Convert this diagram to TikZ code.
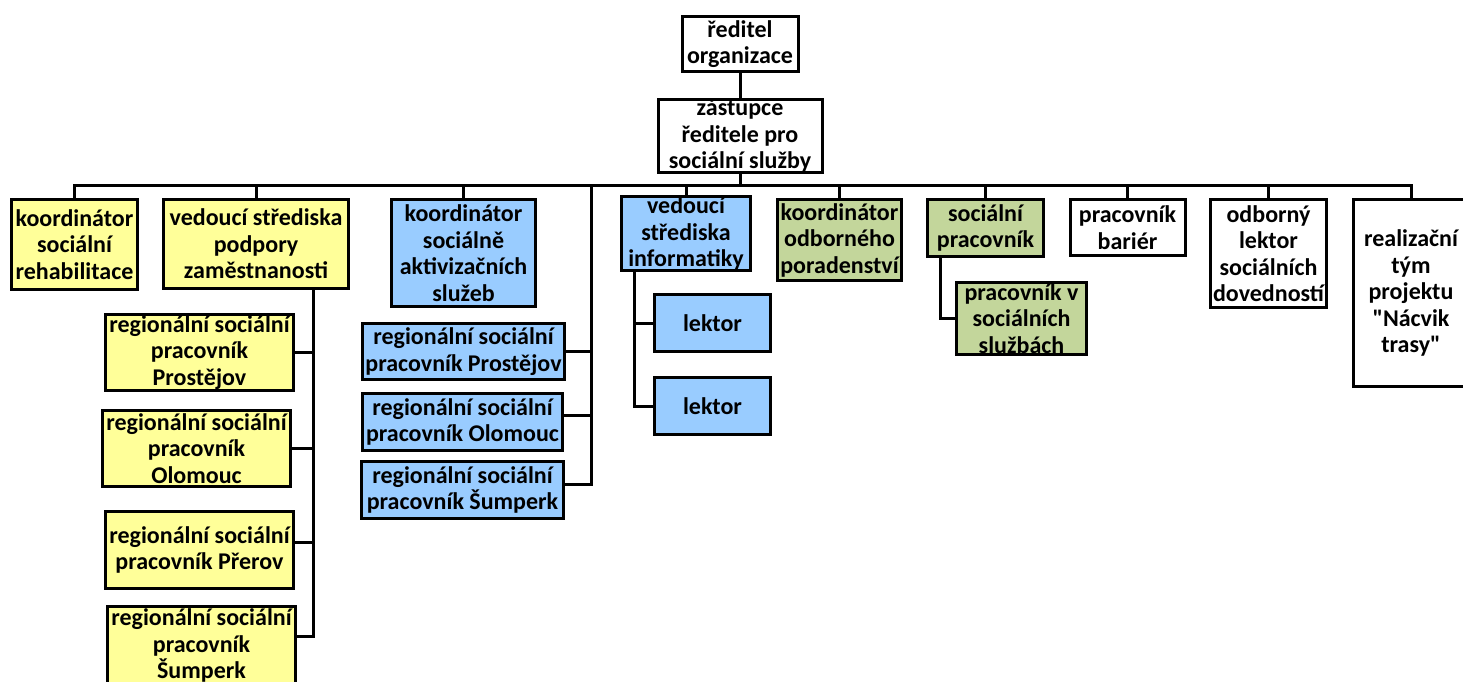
\documentclass[tikz,border=0pt]{standalone}
\usepackage{fontspec}
\newfontfamily\orgfont{Carlito}
\usetikzlibrary{positioning, calc}
\definecolor{orgyellow}{HTML}{FFFF99}
\definecolor{orgblue}{HTML}{99CCFF}
\definecolor{orggreen}{HTML}{C3D69B}

\begin{document}
\begin{tikzpicture}[x=1pt, y=-1pt,
    unit/.style={draw=black, line width=3pt, inner sep=0pt, align=center,
                 font=\orgfont\fontsize{24}{26.5}\selectfont\bfseries},
    plain/.style={unit, fill=white},
    yel/.style={unit, fill=orgyellow},
    blu/.style={unit, fill=orgblue},
    grn/.style={unit, fill=orggreen},
    link/.style={line width=3pt, black}
  ]
    \useasboundingbox (0,0) rectangle (1463,681);

    \node[plain, minimum width=116, minimum height=55] (dir) at (740,44) {ředitel\\organizace};
    \node[plain, minimum width=164, minimum height=73] (dep) at (740,136) {zástupce\\ředitele pro\\sociální služby};

    \node[yel, minimum width=126, minimum height=90] (kr) at (74.5,244.5) {koordinátor\\sociální\\rehabilitace};
    \node[yel, minimum width=185, minimum height=89] (vsp) at (256,244) {vedoucí střediska\\podpory\\zaměstnanosti};
    \node[blu, minimum width=144, minimum height=107] (kab) at (463.5,253) {koordinátor\\sociálně\\aktivizačních\\služeb};
    \node[blu, minimum width=129, minimum height=68] (vsi) at (686,233.5) {vedoucí\\střediska\\informatiky};
    \node[grn, minimum width=124, minimum height=81] (kop) at (839.5,240) {koordinátor\\odborného\\poradenství};
    \node[grn, minimum width=116, minimum height=57] (sp) at (985.5,228) {sociální\\pracovník};
    \node[plain, minimum width=115, minimum height=56] (pb) at (1127.5,227.5) {pracovník\\bariér};
    \node[plain, minimum width=116, minimum height=108] (ol) at (1268.5,253.5) {odborný\\lektor\\sociálních\\dovedností};
    \node[plain, minimum width=115, minimum height=187] (rt) at (1411,293) {realizační\\tým\\projektu\\"Nácvik\\trasy"};

    \node[yel, minimum width=188, minimum height=76] (ry1) at (199.5,352.5) {regionální sociální\\pracovník\\Prostějov};
    \node[yel, minimum width=188, minimum height=76] (ry2) at (196.5,448.5) {regionální sociální\\pracovník\\Olomouc};
    \node[yel, minimum width=188, minimum height=77] (ry3) at (199.5,550) {regionální sociální\\pracovník Přerov};
    \node[yel, minimum width=188, minimum height=78] (ry4) at (201.5,645.5) {regionální sociální\\pracovník\\Šumperk};

    \node[blu, minimum width=202, minimum height=56] (rb1) at (463.5,351.5) {regionální sociální\\pracovník Prostějov};
    \node[blu, minimum width=200, minimum height=57] (rb2) at (462.5,422) {regionální sociální\\pracovník Olomouc};
    \node[blu, minimum width=202, minimum height=57] (rb3) at (462.5,490) {regionální sociální\\pracovník Šumperk};

    \node[blu, minimum width=116, minimum height=57] (lek1) at (712.5,323) {lektor};
    \node[blu, minimum width=116, minimum height=57] (lek2) at (712.5,406) {lektor};

    \node[grn, minimum width=130, minimum height=72] (pvs) at (1021.5,318.5) {pracovník v\\sociálních\\službách};

    \coordinate (bus) at (740,185);
    \coordinate (btop) at (591,185);
    \coordinate (ytop) at ([xshift=-37pt]vsp.south east);
    \coordinate (itop) at ([xshift=14pt]vsi.south west);
    \coordinate (stop) at ([xshift=14pt]sp.south west);

    \draw[link] (dir) -- (dep);
    \draw[link] (dep.south) -- (bus);
    \foreach \n in {kr, vsp, kab, vsi, kop, sp, pb, ol, rt}
      \draw[link] (bus) -| (\n.north);

    \foreach \n/\s in {ry1/0, ry2/0, ry3/8, ry4/9}
      \draw[link] (ytop) |- ([yshift=\s pt]\n.east);
    \foreach \n/\s in {rb1/0, rb2/7, rb3/6}
      \draw[link] (btop) |- ([yshift=\s pt]\n.east);
    \foreach \n in {lek1, lek2}
      \draw[link] (itop) |- (\n.west);
    \draw[link] (stop) |- (pvs.west);
  \end{tikzpicture}
\end{document}
